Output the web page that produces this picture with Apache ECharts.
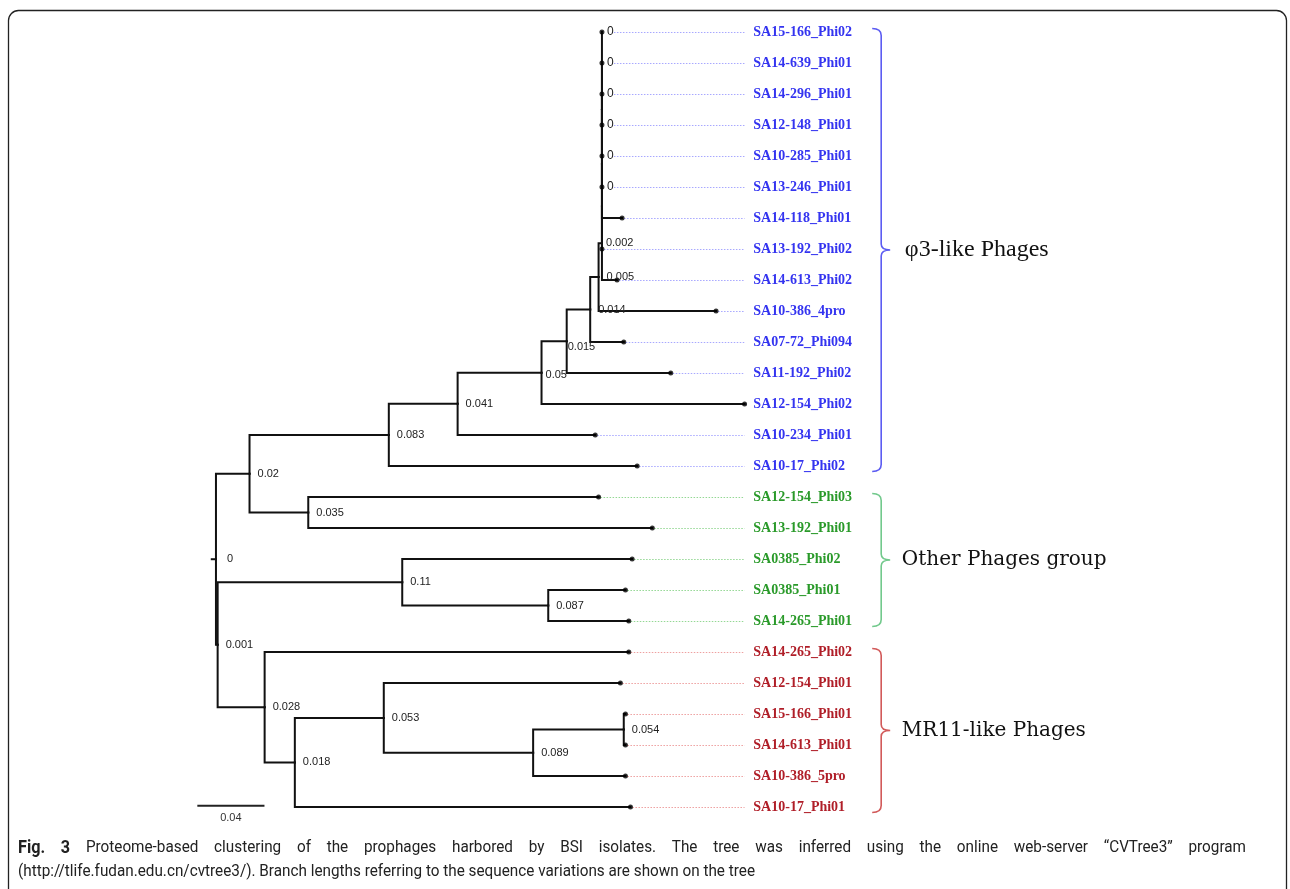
<!DOCTYPE html>
<html><head><meta charset="utf-8">
<script src="https://cdn.jsdelivr.net/npm/echarts@6/dist/echarts.min.js"></script>
<style>html,body{margin:0;padding:0;background:#fff}#c{width:1290px;height:889px}</style>
</head><body><div id="c"></div>
<script>
// ---------------- data ----------------
const leafNames = ['SA15-166_Phi02','SA14-639_Phi01','SA14-296_Phi01','SA12-148_Phi01','SA10-285_Phi01','SA13-246_Phi01',
  'SA14-118_Phi01','SA13-192_Phi02','SA14-613_Phi02','SA10-386_4pro','SA07-72_Phi094','SA11-192_Phi02','SA12-154_Phi02',
  'SA10-234_Phi01','SA10-17_Phi02','SA12-154_Phi03','SA13-192_Phi01','SA0385_Phi02','SA0385_Phi01','SA14-265_Phi01',
  'SA14-265_Phi02','SA12-154_Phi01','SA15-166_Phi01','SA14-613_Phi01','SA10-386_5pro','SA10-17_Phi01'];
const leafParent = ['nZ','nZ','nZ','nZ','nZ','nZ','nY','nX','n002','n005','n014','n015','n05','n041','n083',
  'n035','n035','n011','n087','n087','n028','n053','n054','n054','n089','n018'];
const leafBranch = [0,0,0,0,0,0,0.012,0,0.009,0.07,0.02,0.062,0.121,0.082,0.148,
  0.173,0.205,0.137,0.046,0.048,0.217,0.141,0.001,0.001,0.055,0.2];
const leafBranchLabels = ['0','0','0','0','0','0','','','','','','','','','','','','','','','','','','','',''];
const leafGroup = [0,0,0,0,0,0,0,0,0,0,0,0,0,0,0,1,1,1,1,1,2,2,2,2,2,2];

const nodeNames  = ['root','n02','n083','n041','n05','n015','n014','n005','n002','nX','nY','nZ','n035','n001','n011','n087','n028','n018','n053','n089','n054'];
const nodeParent = [null,'root','n02','n083','n041','n05','n015','n014','n005','n002','nX','nY','n02','root','n001','n011','n001','n028','n018','n053','n089'];
const nodeBranch = [0,0.02,0.083,0.041,0.05,0.015,0.014,0.005,0.002,0,0,0,0.035,0.001,0.11,0.087,0.028,0.018,0.053,0.089,0.054];
const nodeLabels = ['0','0.02','0.083','0.041','0.05','0.015','0.014','0.005','0.002','','','','0.035','0.001','0.11','0.087','0.028','0.018','0.053','0.089','0.054'];

const groupNames = ['\u03c63-like Phages','Other Phages group','MR11-like Phages'];
const groupStart = [0,15,20];
const groupEnd   = [14,19,25];

const scaleBarLength = 0.04;
const scaleBarLabel = '0.04';

const captionBold = 'Fig. 3';
const captionLine1 = 'Proteome-based clustering of the prophages harbored by BSI isolates. The tree was inferred using the online web-server \u201cCVTree3\u201d program';
const captionLine2 = '(http://tlife.fudan.edu.cn/cvtree3/). Branch lengths referring to the sequence variations are shown on the tree';

// ---------------- layout / style constants ----------------
const PX_PER_UNIT = 1680;
const X_MIN = -0.02, X_MAX = 0.64;
const GRID_LEFT = 216 + X_MIN * PX_PER_UNIT;
const LEAF_LABEL_X = 0.3202, LEADER_END_X = 0.315, BRACKET_X = 0.3964, GROUP_LABEL_X = 0.4105;
const SCALE_X0 = -0.0111, SCALE_Y = 24.96;
const textColors = ['#3434f0','#2a9a2a','#b01e28'];
const leaderColors = ['#a8a8ff','#94d894','#eea0a0'];
const bracketColors = ['#5c5cf2','#72c98c','#d25a5a'];

// ---------------- tree geometry ----------------
const T = {};
nodeNames.forEach((n,i)=>{T[n]={parent:nodeParent[i],len:nodeBranch[i],label:nodeLabels[i],kids:[],leaf:false};});
leafNames.forEach((n,i)=>{T['L'+i]={parent:leafParent[i],len:leafBranch[i],label:leafBranchLabels[i],kids:[],leaf:true,idx:i};});
Object.keys(T).forEach(k=>{const p=T[k].parent; if(p) T[p].kids.push(k);});
function getX(k){const e=T[k]; if(e.x!==undefined) return e.x; e.x = e.parent? getX(e.parent)+e.len : 0; return e.x;}
function getY(k){const e=T[k]; if(e.y!==undefined) return e.y;
  if(e.leaf){e.y=e.idx;} else {const ys=e.kids.map(getY); e.y=(Math.min(...ys)+Math.max(...ys))/2;} return e.y;}
Object.keys(T).forEach(k=>{getX(k);getY(k);});

const branchData = [];
Object.keys(T).forEach(k=>{const e=T[k]; if(!e.parent) return; const p=T[e.parent];
  branchData.push({coords:[[p.x,p.y],[p.x,e.y],[e.x,e.y]]});});
branchData.push({coords:[[T.root.x-0.0025,T.root.y],[T.root.x,T.root.y]]});

const tipData = leafNames.map((n,i)=>[T['L'+i].x, i]);

const labelShift = {root:[11,0], n05:[4,2], n015:[1,6], n002:[4,0], n011:[8,0]};
const numLabels = [];
Object.keys(T).forEach(k=>{const e=T[k]; if(!e.label) return;
  const s = e.leaf ? [5,0] : (labelShift[k]||[8,0]);
  numLabels.push({x:e.x,y:e.y,text:e.label,dx:s[0],dy:s[1],leaf:e.leaf});});

const chart = echarts.init(document.getElementById('c'));

// ---------------- caption (condensed face; first line justified, last line ragged) ----------------
const CAP_FONT = '"Roboto","Noto Sans",sans-serif';
const CAP_SIZE = 17;
const cv = document.createElement('canvas').getContext('2d');
function tw(t,bold,size){cv.font=(bold?'bold ':'')+(size||CAP_SIZE)+'px '+CAP_FONT; return cv.measureText(t).width;}
const capScale = 737 / tw(captionLine2,false,CAP_SIZE);
const boldWords = captionBold.split(' ');
const words1 = boldWords.map(w=>({t:w,b:true})).concat(captionLine1.split(' ').map(w=>({t:w,b:false})));
const sumW = words1.reduce((s,w)=>s+tw(w.t,w.b,w.b?CAP_SIZE+1:CAP_SIZE)*capScale,0);
const gap = (1228 - sumW)/(words1.length-1);
const captionGraphics = [];
let cx = 18;
words1.forEach(w=>{
  const sz = w.b?CAP_SIZE+1:CAP_SIZE;
  captionGraphics.push({type:'text',x:cx,y:848,scaleX:capScale,silent:true,
    style:{text:w.t,fill:'#222',fontSize:sz,fontWeight:w.b?'bold':'normal',fontFamily:CAP_FONT,verticalAlign:'middle',align:'left'}});
  cx += tw(w.t,w.b,sz)*capScale + gap;
});
captionGraphics.push({type:'text',x:18,y:872,scaleX:capScale,silent:true,
  style:{text:captionLine2,fill:'#222',fontSize:CAP_SIZE,fontFamily:CAP_FONT,verticalAlign:'middle',align:'left'}});

const option = {
  animation:false,
  backgroundColor:'#ffffff',
  grid:{left:GRID_LEFT, top:32, width:(X_MAX-X_MIN)*PX_PER_UNIT, height:775},
  xAxis:{type:'value',min:X_MIN,max:X_MAX,show:false},
  yAxis:{type:'value',min:0,max:25,inverse:true,show:false},
  series:[
    {type:'custom',z:1,silent:true,data:leafNames.map((n,i)=>[T['L'+i].x,i]),
     renderItem:(params,api)=>{const i=params.dataIndex; const e=T['L'+i];
       const a=api.coord([e.x,i]), b=api.coord([LEADER_END_X,i]);
       const x1 = a[0] + (e.label ? 12 : 2);
       return {type:'line',shape:{x1:x1,y1:a[1]+0.5,x2:b[0],y2:b[1]+0.5},
         style:{stroke:leaderColors[leafGroup[i]],lineWidth:1,lineDash:[1.5,1.5]}};}},
    {type:'lines',coordinateSystem:'cartesian2d',polyline:true,z:3,
     lineStyle:{color:'#111',width:2,opacity:1,cap:'square'}, data:branchData},
    {type:'scatter',z:4,symbol:'circle',symbolSize:5,itemStyle:{color:'#000'},data:tipData,silent:true},
    {type:'custom',z:5,silent:true,data:numLabels.map(d=>[d.x,d.y]),
     renderItem:(params,api)=>{const d=numLabels[params.dataIndex]; const p=api.coord([d.x,d.y]);
       return {type:'text',x:p[0]+d.dx,y:p[1]+d.dy,style:{text:d.text,fill:'#222',font:(d.leaf?'12px':'11px')+' "Liberation Sans",Arial,sans-serif',align:'left',verticalAlign:'middle'}};}},
    {type:'custom',z:5,silent:true,data:leafNames.map((n,i)=>[LEAF_LABEL_X,i]),
     renderItem:(params,api)=>{const i=params.dataIndex; const p=api.coord([LEAF_LABEL_X,i]);
       return {type:'text',x:p[0],y:p[1],style:{text:leafNames[i],fill:textColors[leafGroup[i]],font:'bold 14px "Liberation Serif","Times New Roman",serif',align:'left',verticalAlign:'middle'}};}},
    {type:'custom',z:5,silent:true,data:groupStart.map((s,i)=>[s,groupEnd[i]]),
     renderItem:(params,api)=>{const i=params.dataIndex;
       const top=api.coord([BRACKET_X,groupStart[i]]), bot=api.coord([BRACKET_X,groupEnd[i]]);
       const x0=top[0], t=top[1]-3.5, b=bot[1]+5.5, m=(t+b)/2;
       const pd=`M${x0-9} ${t} Q${x0} ${t} ${x0} ${t+7} L${x0} ${m-6} Q${x0} ${m} ${x0+9} ${m} Q${x0} ${m} ${x0} ${m+6} L${x0} ${b-7} Q${x0} ${b} ${x0-9} ${b}`;
       const lx=api.coord([GROUP_LABEL_X,0])[0];
       const font = i===0 ? '24px "Liberation Serif","Times New Roman",serif' : '20px "DejaVu Serif",serif';
       return {type:'group',children:[
         {type:'path',shape:{pathData:pd},style:{stroke:bracketColors[i],fill:'none',lineWidth:1.6}},
         {type:'text',x:lx - (i===0?0:3),y:m,style:{text:groupNames[i],fill:'#111',font:font,align:'left',verticalAlign:'middle'}}
       ]};}},
    {type:'custom',z:5,silent:true,data:[[SCALE_X0,SCALE_Y]],
     renderItem:(params,api)=>{const a=api.coord([SCALE_X0,SCALE_Y]), b=api.coord([SCALE_X0+scaleBarLength,SCALE_Y]);
       return {type:'group',children:[
         {type:'line',shape:{x1:a[0],y1:a[1],x2:b[0],y2:b[1]},style:{stroke:'#222',lineWidth:2}},
         {type:'text',x:(a[0]+b[0])/2,y:a[1]+12,style:{text:scaleBarLabel,fill:'#333',font:'11px "Liberation Sans",Arial,sans-serif',align:'center',verticalAlign:'middle'}}
       ]};}}
  ],
  graphic:[
    {type:'rect',shape:{x:8.5,y:10.5,width:1278,height:900,r:10},style:{fill:'none',stroke:'#222',lineWidth:1.3},z:0,silent:true}
  ].concat(captionGraphics)
};
chart.setOption(option);
</script>
</body></html>
